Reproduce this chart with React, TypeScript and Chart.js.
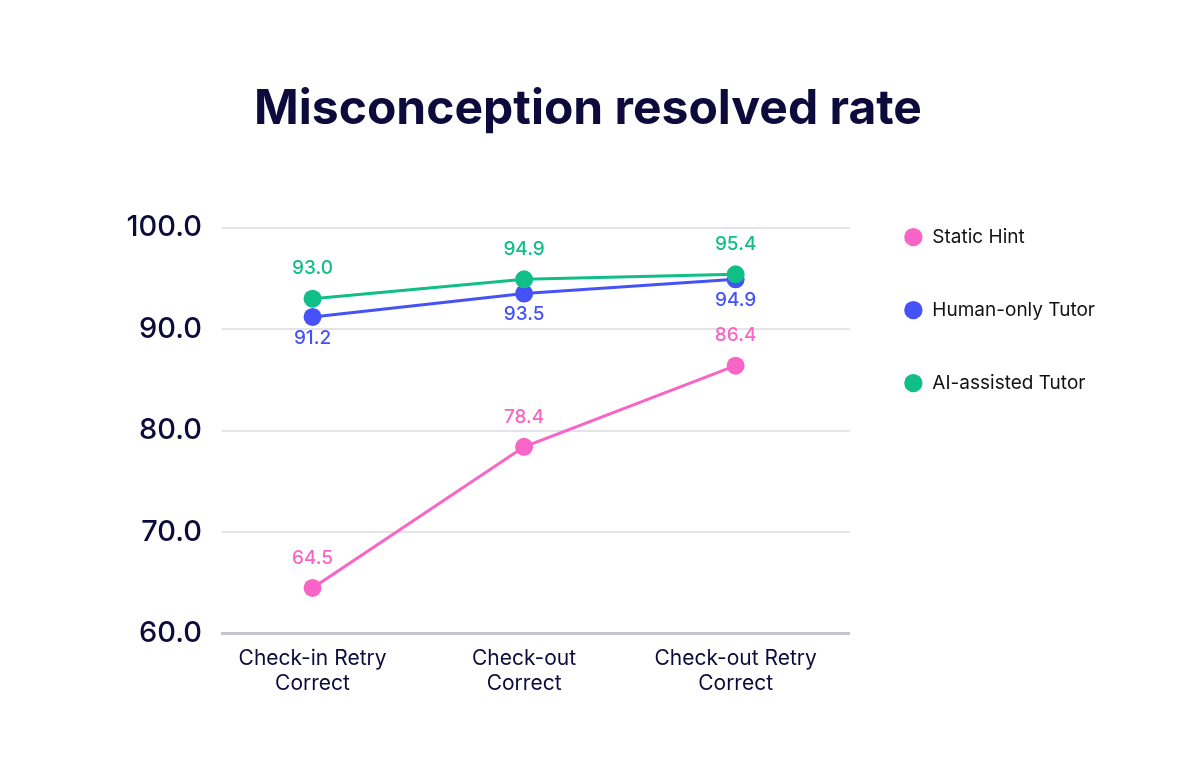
import React, { useEffect, useRef } from "react";
import { Chart, registerables } from "chart.js";

Chart.register(...registerables);

const categories = [
  ["Check-in Retry", "Correct"],
  ["Check-out", "Correct"],
  ["Check-out Retry", "Correct"],
];
const seriesNames = ["Static Hint", "Human-only Tutor", "AI-assisted Tutor"];
const staticHint = [64.5, 78.4, 86.4];
const humanOnly = [91.2, 93.5, 94.9];
const aiAssisted = [93.0, 94.9, 95.4];
const seriesColors = ["#f865c6", "#4552f8", "#0fbf87"];
const labelAbove = [true, false, true];
const yTicks = [60, 70, 80, 90, 100];

const NAVY = "#0d0b3b";
const FONT = "Inter, 'Open Sans', sans-serif";

const valueLabels = {
  id: "valueLabels",
  afterDatasetsDraw(chart: any) {
    const ctx = chart.ctx;
    ctx.save();
    ctx.font = `500 19px ${FONT}`;
    ctx.textAlign = "center";
    ctx.textBaseline = "middle";
    chart.data.datasets.forEach((ds: any, di: number) => {
      const meta = chart.getDatasetMeta(di);
      meta.data.forEach((pt: any, i: number) => {
        const v = ds.data[i].y;
        ctx.fillStyle = seriesColors[di];
        const dy = labelAbove[di] ? -30 : 21;
        ctx.fillText(v.toFixed(1), pt.x, pt.y + dy);
      });
    });
    ctx.restore();
  },
};

export default function App() {
  const ref = useRef<HTMLCanvasElement | null>(null);
  useEffect(() => {
    if (!ref.current) return;
    const allSeries = [staticHint, humanOnly, aiAssisted];
    const chart = new Chart(ref.current, {
      type: "line",
      data: {
        datasets: allSeries.map((vals, si) => ({
          label: seriesNames[si],
          data: vals.map((y, i) => ({ x: i, y })),
          borderColor: seriesColors[si],
          backgroundColor: seriesColors[si],
          pointBackgroundColor: seriesColors[si],
          pointBorderColor: seriesColors[si],
          borderWidth: 3,
          pointRadius: 9,
          pointBorderWidth: 0,
          tension: 0,
          order: 2 - si,
        })),
      },
      options: {
        animation: false,
        responsive: true,
        maintainAspectRatio: false,
        layout: { padding: { left: 71, right: 74, bottom: 69, top: 0 } },
        plugins: {
          title: {
            display: true,
            text: "Misconception resolved rate",
            color: NAVY,
            font: { family: FONT, size: 48, weight: "bold" },
            padding: { top: 81, bottom: 89 },
          },
          legend: {
            position: "right",
            align: "start",
            fullSize: false,
            title: {
              display: true,
              text: "",
              font: { size: 1, lineHeight: 1 },
              padding: { top: 0, bottom: -55 },
            },
            labels: {
              usePointStyle: true,
              pointStyle: "circle",
              boxHeight: 13,
              color: "#111",
              padding: 54,
              font: { family: FONT, size: 19 },
              sort: (a: any, b: any) => a.datasetIndex - b.datasetIndex,
            },
          },
          tooltip: { enabled: false },
        },
        scales: {
          x: {
            type: "linear",
            min: -0.428,
            max: 2.54,
            afterBuildTicks: (axis: any) => {
              axis.ticks = categories.map((_, i) => ({ value: i }));
            },
            ticks: {
              autoSkip: false,
              maxRotation: 0,
              color: NAVY,
              padding: 12,
              font: { family: FONT, size: 21, lineHeight: 1.2 },
              callback: (v: any) => categories[v as number] ?? "",
            },
            grid: { display: false, drawTicks: false },
            border: { display: true, color: "#c6c6ce", width: 3 },
          },
          y: {
            min: 60,
            max: 100,
            afterBuildTicks: (axis: any) => {
              axis.ticks = yTicks.map((v) => ({ value: v }));
            },
            afterFit: (axis: any) => {
              axis.width = 151;
            },
            ticks: {
              color: NAVY,
              padding: 20,
              font: { family: FONT, size: 29, weight: 500 },
              callback: (v: any) => Number(v).toFixed(1),
            },
            grid: { color: "#e3e3e8", lineWidth: 2, drawTicks: false },
            border: { display: false },
          },
        },
      },
      plugins: [valueLabels],
    });
    return () => chart.destroy();
  }, []);
  return (
    <div style={{ position: "fixed", left: 0, top: 0, width: 1179, height: 777, background: "#fff" }}>
      <canvas ref={ref} />
    </div>
  );
}
